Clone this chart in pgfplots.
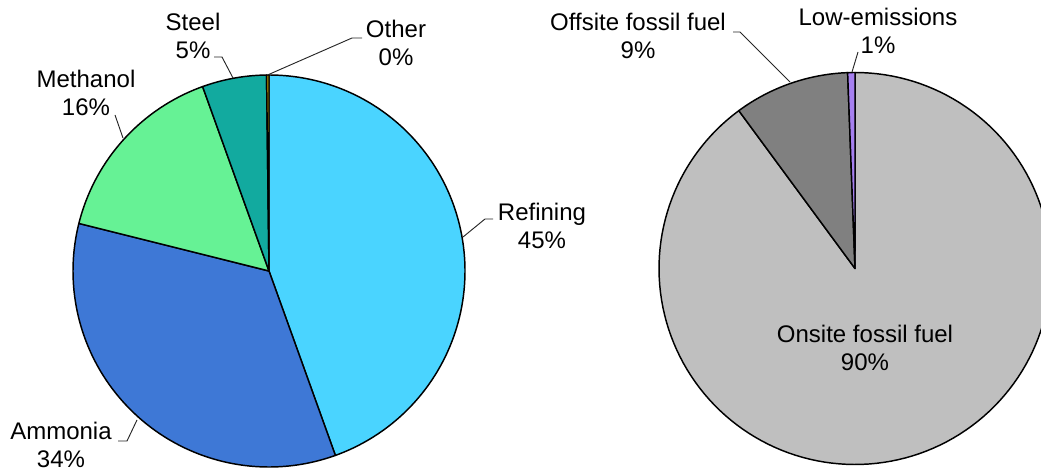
\documentclass[border=0pt]{standalone}
\usepackage{pgfplots}
\pgfplotsset{compat=1.18}
\usepackage{fontspec}
\setmainfont{Liberation Sans}
\definecolor{refining}{HTML}{4AD4FF}
\definecolor{ammonia}{HTML}{3E78D6}
\definecolor{methanol}{HTML}{66F295}
\definecolor{steel}{HTML}{12AA9F}
\definecolor{other}{HTML}{CCA000}
\definecolor{onsite}{HTML}{BFBFBF}
\definecolor{offsite}{HTML}{808080}
\definecolor{lowem}{HTML}{A680F0}
\tikzset{lbl/.style={font=\fontsize{18}{21}\selectfont, align=center, text=black, inner sep=0pt}}
% #1 cx, #2 cy, #3 r, #4 cumulative start (%), #5 cumulative end (%), #6 colour
\newcommand{\pieslice}[6]{%
  \addplot[draw=black, line width=1.1pt, line join=round, fill=#6, domain={90-3.6*(#5)}:{90-3.6*(#4)}, samples=150, variable=\t]
    ({#1+#3*cos(\t)},{#2+#3*sin(\t)}) -- (axis cs:#1,#2) -- cycle;
}
\begin{document}
\begin{tikzpicture}
\begin{axis}[
  at={(0,0)}, anchor=south west,
  scale only axis, width=780.75pt, height=353.25pt,
  xmin=0, xmax=1041, ymin=0, ymax=471,
  hide axis, clip=true,
]
% Left pie: Refining 44.5, Ammonia 34.4, Methanol 15.6, Steel 5.3, Other 0.2
\pieslice{269}{200}{196}{0}{44.5}{refining}
\pieslice{269}{200}{196}{44.5}{78.9}{ammonia}
\pieslice{269}{200}{196}{78.9}{94.5}{methanol}
\pieslice{269}{200}{196}{94.5}{99.8}{steel}
\pieslice{269}{200}{196}{99.8}{100}{other}
% Right pie: Onsite 89.9, Offsite 9.5, Low-emissions 0.6
\pieslice{855}{202.5}{196}{0}{89.9}{onsite}
\pieslice{855}{202.5}{196}{89.9}{99.4}{offsite}
\pieslice{855}{202.5}{196}{99.4}{100}{lowem}
% leader lines
\draw[line width=0.7pt, black!85] (axis cs:214,414) -- (axis cs:222,414) -- (axis cs:233,393);
\draw[line width=0.7pt, black!85] (axis cs:362,433) -- (axis cs:352,433) -- (axis cs:267.5,396);
\draw[line width=0.7pt, black!85] (axis cs:115,356) -- (axis cs:123,333);
\draw[line width=0.7pt, black!85] (axis cs:493,252) -- (axis cs:485,252) -- (axis cs:463,234);
\draw[line width=0.7pt, black!85] (axis cs:118,30) -- (axis cs:127,30) -- (axis cs:137,51);
\draw[line width=0.7pt, black!85] (axis cs:733,439) -- (axis cs:740,439) -- (axis cs:790,389);
\draw[line width=0.7pt, black!85] (axis cs:858,419) -- (axis cs:852,399);
% labels
\node[lbl] at (axis cs:542,245) {Refining\\45\%};
\node[lbl] at (axis cs:61,26) {Ammonia\\34\%};
\node[lbl] at (axis cs:86,378.5) {Methanol\\16\%};
\node[lbl] at (axis cs:193,435) {Steel\\5\%};
\node[lbl] at (axis cs:396,428) {Other\\0\%};
\node[lbl] at (axis cs:638,435) {Offsite fossil fuel\\9\%};
\node[lbl] at (axis cs:878,440) {Low-emissions\\1\%};
\node[lbl] at (axis cs:865,123.5) {Onsite fossil fuel\\90\%};
\end{axis}
\pgfresetboundingbox
\path (0,0) rectangle (780.75pt,353.25pt);
\end{tikzpicture}
\end{document}
